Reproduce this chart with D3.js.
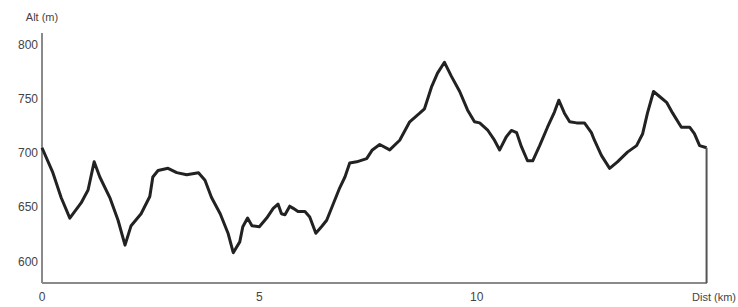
<!DOCTYPE html>
<html><head><meta charset="utf-8">
<script src="https://cdn.jsdelivr.net/npm/d3@7"></script>
<style>body{margin:0;background:#fff}svg{display:block}</style>
</head><body>
<svg id="c" width="738" height="307"></svg>
<script>
const distKm = [0,0.25,0.44,0.64,0.9,1.06,1.2,1.33,1.56,1.75,1.91,2.05,2.28,2.48,2.55,2.67,2.9,3.1,3.33,3.6,3.75,3.9,4.1,4.28,4.4,4.55,4.62,4.73,4.83,5.0,5.17,5.32,5.43,5.51,5.59,5.7,5.78,5.89,6.05,6.16,6.3,6.43,6.55,6.7,6.85,6.97,7.08,7.24,7.47,7.6,7.77,8.0,8.23,8.46,8.69,8.8,8.96,9.1,9.26,9.42,9.61,9.79,9.95,10.07,10.26,10.41,10.53,10.68,10.8,10.92,11.03,11.17,11.29,11.45,11.63,11.79,11.89,12.02,12.14,12.3,12.48,12.64,12.71,12.87,13.06,13.24,13.47,13.68,13.82,13.93,14.07,14.25,14.37,14.51,14.71,14.9,15.01,15.13,15.29];
const altM = [705,682,659,640,654,666,692,678,659,638,615,633,644,660,678,684,686,682,680,682,675,659,644,626,608,618,632,640,633,632,640,649,653,644,643,651,649,646,646,641,626,632,638,653,668,678,691,692,695,703,708,703,712,729,737,741,761,774,784,771,757,740,729,728,721,712,703,715,721,719,706,693,693,707,724,738,749,737,729,728,728,719,712,698,686,692,701,707,718,737,757,751,747,737,724,724,718,707,705];
const yTicks = [600,650,700,750,800];
const xTicks = [0,5,10];
const yTitle = "Alt (m)";
const xTitle = "Dist (km)";

const svg = d3.select("#c");
const x = d3.scaleLinear().domain([0, 15.3]).range([42, 707]);
const y = d3.scaleLinear().domain([580, 800]).range([283, 45]);
const font = "'Liberation Sans Narrow','Liberation Sans',Arial,sans-serif";
const axisCol = "#8a8a8a";
const textCol = "#444";

svg.append("line").attr("x1", x(0)).attr("x2", x(0)).attr("y1", 33).attr("y2", y(580))
  .attr("stroke", axisCol).attr("stroke-width", 2);
svg.append("line").attr("x1", x(0)).attr("x2", x(15.3)).attr("y1", y(580)).attr("y2", y(580))
  .attr("stroke", axisCol).attr("stroke-width", 2);

svg.append("g").selectAll("text").data(yTicks).join("text")
  .attr("x", 38).attr("y", d => y(d)).attr("dy", "0.35em")
  .attr("text-anchor", "end").attr("font-family", font).attr("font-size", 12)
  .attr("fill", textCol).text(d => d);

svg.append("g").selectAll("text").data(xTicks).join("text")
  .attr("x", d => x(d)).attr("y", 297).attr("dy", "0.35em")
  .attr("text-anchor", "middle").attr("font-family", font).attr("font-size", 12)
  .attr("fill", textCol).text(d => d);

svg.append("text").attr("x", 42).attr("y", 17).attr("dy", "0.35em")
  .attr("text-anchor", "middle").attr("font-family", font).attr("font-size", 11)
  .attr("fill", textCol).text(yTitle);
svg.append("text").attr("x", 736).attr("y", 297).attr("dy", "0.35em")
  .attr("text-anchor", "end").attr("font-family", font).attr("font-size", 11)
  .attr("fill", textCol).text(xTitle);

const pts = distKm.map((d, i) => [d, altM[i]]);
const line = d3.line().x(d => x(d[0])).y(d => y(d[1]));
svg.append("path").attr("d", line(pts)).attr("fill", "none")
  .attr("stroke", "#222").attr("stroke-width", 3).attr("stroke-linejoin", "round");
const last = pts[pts.length - 1];
svg.append("line").attr("x1", x(last[0])).attr("x2", x(last[0]))
  .attr("y1", y(last[1])).attr("y2", y(580))
  .attr("stroke", "#555").attr("stroke-width", 2);
</script>
</body></html>
